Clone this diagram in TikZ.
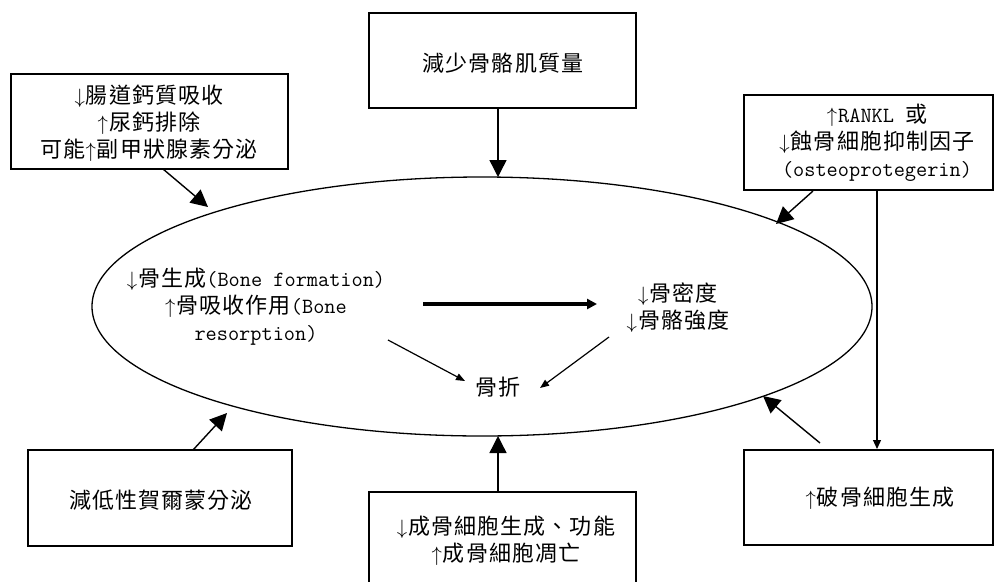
\documentclass[tikz,border=0pt]{standalone}
\usepackage{fontspec}
\newfontfamily\cjfont[LetterSpace=5]{Noto Sans CJK TC}
\newcommand\zh[1]{{\cjfont\fontsize{22}{27}\selectfont #1}}
\newcommand\upar{{\fontsize{21}{27}\selectfont$\uparrow$\kern1pt}}
\newcommand\dnar{{\fontsize{21}{27}\selectfont$\downarrow$\kern1pt}}
\usetikzlibrary{arrows.meta,shapes.geometric}
\begin{document}
\begin{tikzpicture}[x=1pt,y=-1pt,
  box/.style={draw, line width=1.5pt, rectangle, inner sep=0pt},
  lbl/.style={align=center, font=\ttfamily\fontsize{21.7}{27}\selectfont, inner sep=0pt},
  big/.style={line width=1.4pt, -{Triangle[length=17pt,width=17pt]}},
  thin/.style={line width=1.2pt, -{Triangle[length=9pt,width=7pt]}},
  thick/.style={line width=3.5pt, -{Triangle[length=10pt,width=10pt]}}]
\path[use as bounding box] (0,0) rectangle (1000,581);
\clip (0,0) rectangle (1000,581);
\fill[white] (0,0) rectangle (1000,581);

% boxes
\node[box, minimum width=267pt, minimum height=95pt] (topbox) at (502.5,60.5) {};
\node[box, minimum width=277pt, minimum height=95pt] (tlbox) at (149.5,121.5) {};
\node[box, minimum width=249pt, minimum height=95pt] (trbox) at (868.5,142.5) {};
\node[box, minimum width=264pt, minimum height=96pt] (blbox) at (160,498) {};
\node[box, minimum width=267pt, minimum height=100pt] (bmbox) at (502.5,542) {};
\node[box, minimum width=249pt, minimum height=95pt] (brbox) at (868.5,497.5) {};

% ellipse
\node[ellipse, draw, line width=1.3pt, minimum width=780pt, minimum height=259pt, inner sep=0pt] (ell) at (482,306.5) {};

% box texts
\node[lbl] (ttop) at (503,63) {\zh{減少骨骼肌質量}};
\node[lbl] (ttl) at (149,123) {\dnar\zh{腸道鈣質吸收}\\\upar\zh{尿鈣排除}\\\zh{可能}\upar\zh{副甲狀腺素分泌}};
\node[lbl] (ttr) at (877,143) {\upar RANKL \zh{或}\\\dnar\zh{蝕骨細胞抑制因子}\\(osteoprotegerin)};
\node[lbl] (tbl) at (161,500) {\zh{減低性賀爾蒙分泌}};
\node[lbl] (tbm) at (506,541) {\dnar\zh{成骨細胞生成、功能}\\\upar\zh{成骨細胞凋亡}};
\node[lbl] (tbr) at (880,498) {\upar\zh{破骨細胞生成}};

% ellipse texts
\node[lbl] (cause) at (256,307) {\dnar\zh{骨生成}(Bone formation)\\\upar\zh{骨吸收作用}(Bone\\resorption)};
\node[lbl] (bmd) at (678,308) {\dnar\zh{骨密度}\\\dnar\zh{骨骼強度}};
\node[lbl] (frac) at (498,387) {\zh{骨折}};

% coordinates
\coordinate (a1) at (498,108); \coordinate (e1) at (498,177);
\coordinate (a2) at (163,169); \coordinate (e2) at (208,207);
\coordinate (a3) at (813,191); \coordinate (e3) at (776,224);
\coordinate (a4) at (193,450); \coordinate (e4) at (227,413);
\coordinate (a5) at (498,492); \coordinate (e5) at (498,436);
\coordinate (a6) at (820,443); \coordinate (e6) at (763,396);
\coordinate (v1) at (877,190); \coordinate (v2) at (877,449);
\coordinate (t1) at (423,304); \coordinate (t2) at (597,304);
\coordinate (f1) at (388,340); \coordinate (f2) at (465,381);
\coordinate (g1) at (609,337); \coordinate (g2) at (540,388);

% connectors
\draw[big] (a1) -- (e1);
\draw[big] (a2) -- (e2);
\draw[big] (a3) -- (e3);
\draw[big] (a4) -- (e4);
\draw[big] (a5) -- (e5);
\draw[big] (a6) -- (e6);
\draw[line width=1.2pt, -{Triangle[length=9pt,width=8pt]}] (v1) -- (v2);
\draw[thick] (t1) -- (t2);
\draw[thin] (f1) -- (f2);
\draw[thin] (g1) -- (g2);
\end{tikzpicture}
\end{document}
